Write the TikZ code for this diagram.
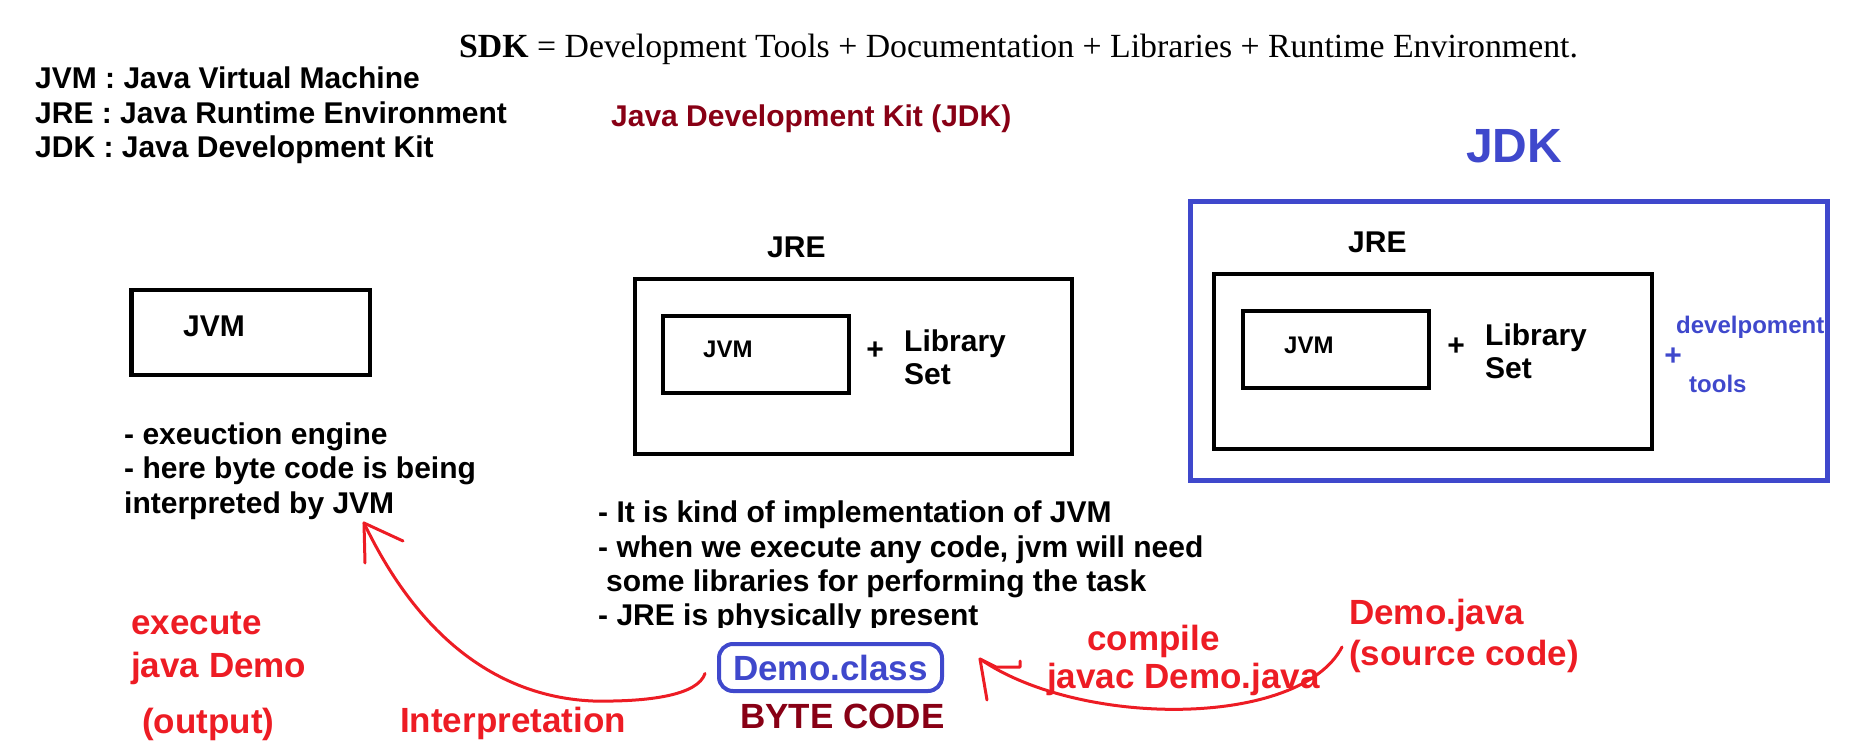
\documentclass[tikz,border=0pt]{standalone}
\usepackage{fontspec}
\usetikzlibrary{calc}
\setmainfont{Liberation Sans}
\newfontfamily\serifx{Liberation Serif}
\definecolor{pred}{RGB}{237,28,36}
\definecolor{pblue}{RGB}{63,72,204}
\definecolor{pdred}{RGB}{136,0,21}
\begin{document}
\begin{tikzpicture}[x=1pt,y=-1pt,
  lbl/.style={inner sep=0pt,anchor=base west,font=\fontsize{30}{34}\selectfont\bfseries},
  sml/.style={inner sep=0pt,anchor=base west,font=\fontsize{24}{28}\selectfont\bfseries},
  redt/.style={inner sep=0pt,anchor=base west,text=pred,font=\fontsize{35}{40}\selectfont\bfseries},
  plus/.style={inner sep=0pt,anchor=center,font=\fontsize{30}{34}\selectfont\bfseries},
  boxk/.style={draw=black,line width=4.5pt,inner sep=0pt},
  boxb/.style={draw=pblue,line width=5pt,inner sep=0pt},
  rarrow/.style={draw=pred,line width=3pt,line cap=round,line join=round}]
\useasboundingbox (0,0) rectangle (1850,743);
% header
\node[inner sep=0pt,anchor=base west,font=\serifx\fontsize{33.8}{38}\selectfont] (sdk) at (459,58)
  {\textbf{SDK} = Development Tools + Documentation + Libraries + Runtime Environment.};
\node[lbl] (l1) at (35,89) {JVM : Java Virtual Machine};
\node[lbl] (l2) at (35,124) {JRE : Java Runtime Environment};
\node[lbl] (l3) at (35,158) {JDK : Java Development Kit};
\node[lbl,text=pdred] (jdktitle) at (611,127) {Java Development Kit (JDK)};
\node[inner sep=0pt,anchor=base west,text=pblue,font=\fontsize{48}{52}\selectfont\bfseries] (jdkbig) at (1466,163) {JDK};
% left JVM
\node[boxk,minimum width=238.5pt,minimum height=84.5pt] (jvmA) at (250.5,332.5) {};
\node[lbl] (jvmAt) at (183,337) {JVM};
\node[lbl] (dA1) at (124,444) {- exeuction engine};
\node[lbl] (dA2) at (124,478) {- here byte code is being};
\node[lbl] (dA3) at (124,513) {interpreted by JVM};
% middle JRE
\node[lbl] (jreB) at (767,258) {JRE};
\node[boxk,minimum width=437pt,minimum height=175pt] (jreBox) at (853.5,366.5) {};
\node[boxk,minimum width=186pt,minimum height=77pt] (jvmB) at (756,354.5) {};
\node[sml] (jvmBt) at (703,357) {JVM};
\node[plus] (plusB) at (875,351) {+};
\node[lbl] (libB1) at (904,351) {Library};
\node[lbl] (libB2) at (904,384) {Set};
\node[lbl] (dB1) at (598,522) {- It is kind of implementation of JVM};
\node[lbl] (dB2) at (598,557) {- when we execute any code, jvm will need};
\node[lbl] (dB3) at (606,591) {some libraries for performing the task};
\begin{scope}
\clip (0,0) rectangle (1850,627);
\node[lbl] (dB4) at (598,625) {- JRE is physically present};
\end{scope}
% right JDK
\node[boxb,minimum width=637pt,minimum height=279pt] (jdkBox) at (1509,341) {};
\node[lbl] (jreC) at (1348,253) {JRE};
\node[boxk,minimum width=438pt,minimum height=175pt] (jreCBox) at (1433,361.5) {};
\node[boxk,minimum width=186pt,minimum height=77pt] (jvmC) at (1336,349.5) {};
\node[sml] (jvmCt) at (1284,353) {JVM};
\node[plus] (plusC) at (1456,347) {+};
\node[lbl] (libC1) at (1485,345) {Library};
\node[lbl] (libC2) at (1485,378) {Set};
\node[sml,text=pblue] (devt) at (1676,334) {develpoment};
\node[plus,text=pblue] (plusD) at (1673,357) {+};
\node[sml,text=pblue] (tools) at (1689,392) {tools};
% bottom
\node[redt] (ex1) at (131,634) {execute};
\node[redt] (ex2) at (131,677) {java Demo};
\node[redt] (ex3) at (142,733) {(output)};
\node[redt] (interp) at (400,732) {Interpretation};
\node[draw=pblue,line width=4pt,rounded corners=14pt,minimum width=223pt,minimum height=47pt,inner sep=0pt] (dc) at (830.5,667.5) {};
\node[inner sep=0pt,anchor=center,text=pblue,font=\fontsize{35}{40}\selectfont\bfseries] (dct) at (dc.center) {Demo.class};
\node[redt,text=pdred] (byte) at (740,728) {BYTE CODE};
\node[redt] (comp1) at (1087,650) {compile};
\node[redt] (comp2) at (1047,688) {javac Demo.java};
\node[redt] (src1) at (1349,624) {Demo.java};
\node[redt] (src2) at (1349,665) {(source code)};
% arrows
\coordinate (s1) at ($(dc.west)+(-12,6)$);
\coordinate (t1) at (364,523);
\coordinate (s2) at (1342,647);
\coordinate (t2) at (980,659);
\draw[rarrow] (s1) .. controls (698,695) and (650,702) .. (593,701)
  .. controls (500,697) and (420,640) .. (t1);
\draw[rarrow] (t1) -- ++(1,40);
\draw[rarrow] (t1) -- ++(39,18);
\draw[rarrow] (s2) .. controls (1300,728) and (1080,728) .. (t2);
\draw[rarrow] (t2) -- ++(7,41);
\draw[rarrow] (t2) -- ++(16,8) -- ++(24,0) -- ++(0,-6);
\end{tikzpicture}
\end{document}
